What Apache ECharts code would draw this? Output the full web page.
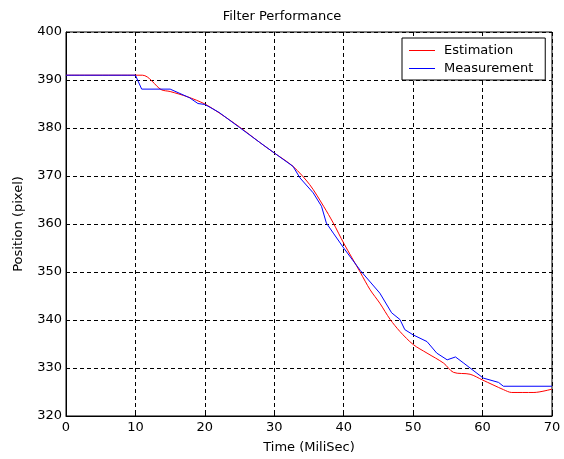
<!DOCTYPE html>
<html>
<head>
<meta charset="utf-8">
<script src="https://cdn.jsdelivr.net/npm/echarts@6/dist/echarts.min.js"></script>
<style>html,body{margin:0;padding:0;background:#fff}#c{width:564px;height:459px}</style>
</head>
<body>
<div id="c"></div>
<script>
const estX = [0, 11, 13.7, 15, 17.5, 20, 22.1, 25, 27.9, 30, 32.7, 35.1, 37.1, 38.5, 40, 42.4, 43.8, 45.2, 46.7, 48.1, 50, 52, 54.4, 55.8, 58.2, 60, 63, 64.2, 67.4, 70];
const estY = [391, 391, 388, 387.6, 386.5, 385, 383.1, 380.2, 377, 374.8, 372, 368.2, 363.7, 360.2, 356, 349.9, 346.3, 343.5, 340.1, 337.6, 334.9, 333.1, 331, 329.1, 328.7, 327.5, 325.5, 324.9, 324.9, 325.6];
const measX = [0, 10, 10.9, 15, 17.8, 19, 20, 22, 25, 27.9, 30, 32.7, 33.7, 35.6, 36.8, 37.5, 38.5, 40, 42.4, 45.2, 46.9, 48.1, 48.8, 50, 52, 53.4, 54.9, 56.1, 57.3, 58.2, 60.1, 62.3, 63, 70];
const measY = [391, 391, 388.1, 388.1, 386.3, 385.1, 384.9, 383.3, 380.1, 377, 374.8, 372, 369.6, 366.5, 363.7, 360.2, 358.1, 355, 350.3, 345.6, 341.5, 340.1, 338, 336.9, 335.5, 333.1, 331.7, 332.3, 331, 330, 327.9, 327, 326.2, 326.2];
const seriesNames = ['Estimation', 'Measurement'];
const titleText = 'Filter Performance';
const xName = 'Time (MiliSec)';
const yName = 'Position (pixel)';

const font = 'DejaVu Sans, sans-serif';
const fs = 13;
const chart = echarts.init(document.getElementById('c'), null, {renderer: 'canvas'});
const pairs = (xs, ys) => xs.map((x, i) => [x, ys[i]]);
chart.setOption({
  animation: false,
  backgroundColor: '#fff',
  title: {text: titleText, left: 'center', top: 5, textStyle: {fontFamily: font, fontSize: fs, fontWeight: 'normal', color: '#000'}},
  grid: {left: 66, right: 12, top: 32, bottom: 43, show: true, borderColor: '#000', borderWidth: 1, backgroundColor: '#fff'},
  legend: {
    orient: 'vertical', left: 402, top: 38, data: seriesNames,
    backgroundColor: '#fff', borderColor: '#000', borderWidth: 1, borderRadius: 0,
    padding: [6, 12, 5, 7], itemGap: 5, itemWidth: 26, itemHeight: 1, icon: 'rect',
    textStyle: {fontFamily: font, fontSize: fs, color: '#000', padding: [0, 0, 0, 4]}
  },
  xAxis: {
    type: 'value', min: 0, max: 70, interval: 10,
    name: xName, nameLocation: 'middle', nameGap: 25,
    nameTextStyle: {fontFamily: font, fontSize: fs, color: '#000'},
    axisLine: {show: true, lineStyle: {color: '#000'}},
    axisTick: {show: true, inside: true, length: 4, lineStyle: {color: '#000'}},
    axisLabel: {fontFamily: font, fontSize: fs, color: '#000', margin: 5},
    splitLine: {show: true, lineStyle: {color: '#000', type: [4, 3], width: 1}}
  },
  yAxis: {
    type: 'value', min: 320, max: 400, interval: 10,
    name: yName, nameLocation: 'middle', nameGap: 41,
    nameTextStyle: {fontFamily: font, fontSize: fs, color: '#000'},
    axisLine: {show: true, lineStyle: {color: '#000'}},
    axisTick: {show: true, inside: true, length: 4, lineStyle: {color: '#000'}},
    axisLabel: {fontFamily: font, fontSize: fs, color: '#000', margin: 4},
    splitLine: {show: true, lineStyle: {color: '#000', type: [4, 3], width: 1}}
  },
  series: [
    {name: seriesNames[0], type: 'line', data: pairs(estX, estY), showSymbol: false, smooth: 0.3, lineStyle: {color: '#ff0000', width: 1}, itemStyle: {color: '#ff0000'}, z: 3},
    {name: seriesNames[1], type: 'line', data: pairs(measX, measY), showSymbol: false, lineStyle: {color: '#0000ff', width: 1}, itemStyle: {color: '#0000ff'}, z: 4}
  ]
});
</script>
</body>
</html>
